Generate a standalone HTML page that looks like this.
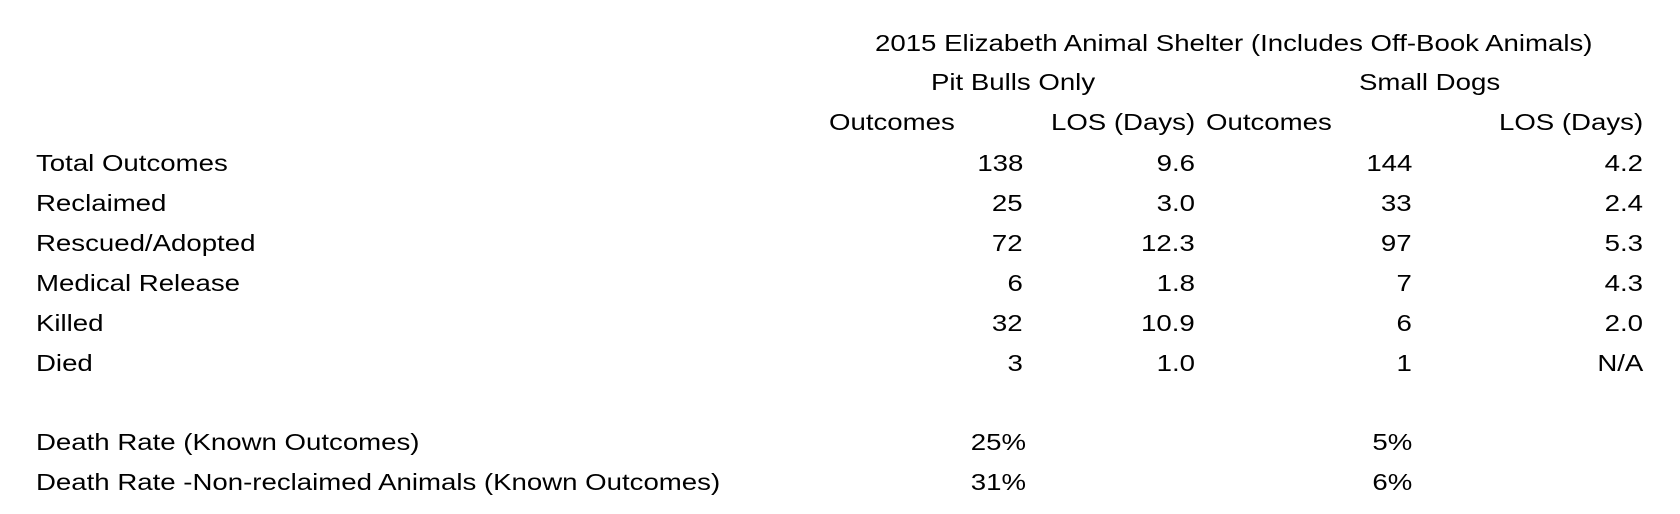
<!DOCTYPE html>
<html><head><meta charset="utf-8"><style>
body{margin:0;width:1680px;height:514px;background:#fff;position:relative;overflow:hidden;font-family:"Liberation Sans",sans-serif;font-size:23px;color:#000}
.t{position:absolute;line-height:30px;height:30px;white-space:nowrap;transform:scaleX(1.2);transform-origin:left center}
.r{text-align:right;transform-origin:right center}
</style></head><body>
<div class="t" style="left:875px;top:28px">2015 Elizabeth Animal Shelter (Includes Off-Book Animals)</div>
<div class="t" style="left:931px;top:67px">Pit Bulls Only</div>
<div class="t" style="left:1359px;top:67px">Small Dogs</div>
<div class="t" style="left:829px;top:107px">Outcomes</div>
<div class="t r" style="right:485px;top:107px">LOS (Days)</div>
<div class="t" style="left:1206px;top:107px">Outcomes</div>
<div class="t r" style="right:37px;top:107px">LOS (Days)</div>

<div class="t" style="left:36px;top:148px">Total Outcomes</div>
<div class="t" style="left:36px;top:188px">Reclaimed</div>
<div class="t" style="left:36px;top:228px">Rescued/Adopted</div>
<div class="t" style="left:36px;top:268px">Medical Release</div>
<div class="t" style="left:36px;top:308px">Killed</div>
<div class="t" style="left:36px;top:348px">Died</div>
<div class="t" style="left:36px;top:427px">Death Rate (Known Outcomes)</div>
<div class="t" style="left:36px;top:467px">Death Rate -Non-reclaimed Animals (Known Outcomes)</div>

<div class="t r" style="right:657px;top:148px">138</div>
<div class="t r" style="right:657px;top:188px">25</div>
<div class="t r" style="right:657px;top:228px">72</div>
<div class="t r" style="right:657px;top:268px">6</div>
<div class="t r" style="right:657px;top:308px">32</div>
<div class="t r" style="right:657px;top:348px">3</div>
<div class="t r" style="right:654px;top:427px">25%</div>
<div class="t r" style="right:654px;top:467px">31%</div>

<div class="t r" style="right:485px;top:148px">9.6</div>
<div class="t r" style="right:485px;top:188px">3.0</div>
<div class="t r" style="right:485px;top:228px">12.3</div>
<div class="t r" style="right:485px;top:268px">1.8</div>
<div class="t r" style="right:485px;top:308px">10.9</div>
<div class="t r" style="right:485px;top:348px">1.0</div>

<div class="t r" style="right:268px;top:148px">144</div>
<div class="t r" style="right:268px;top:188px">33</div>
<div class="t r" style="right:268px;top:228px">97</div>
<div class="t r" style="right:268px;top:268px">7</div>
<div class="t r" style="right:268px;top:308px">6</div>
<div class="t r" style="right:268px;top:348px">1</div>
<div class="t r" style="right:268px;top:427px">5%</div>
<div class="t r" style="right:268px;top:467px">6%</div>

<div class="t r" style="right:37px;top:148px">4.2</div>
<div class="t r" style="right:37px;top:188px">2.4</div>
<div class="t r" style="right:37px;top:228px">5.3</div>
<div class="t r" style="right:37px;top:268px">4.3</div>
<div class="t r" style="right:37px;top:308px">2.0</div>
<div class="t r" style="right:37px;top:348px">N/A</div>
</body></html>
